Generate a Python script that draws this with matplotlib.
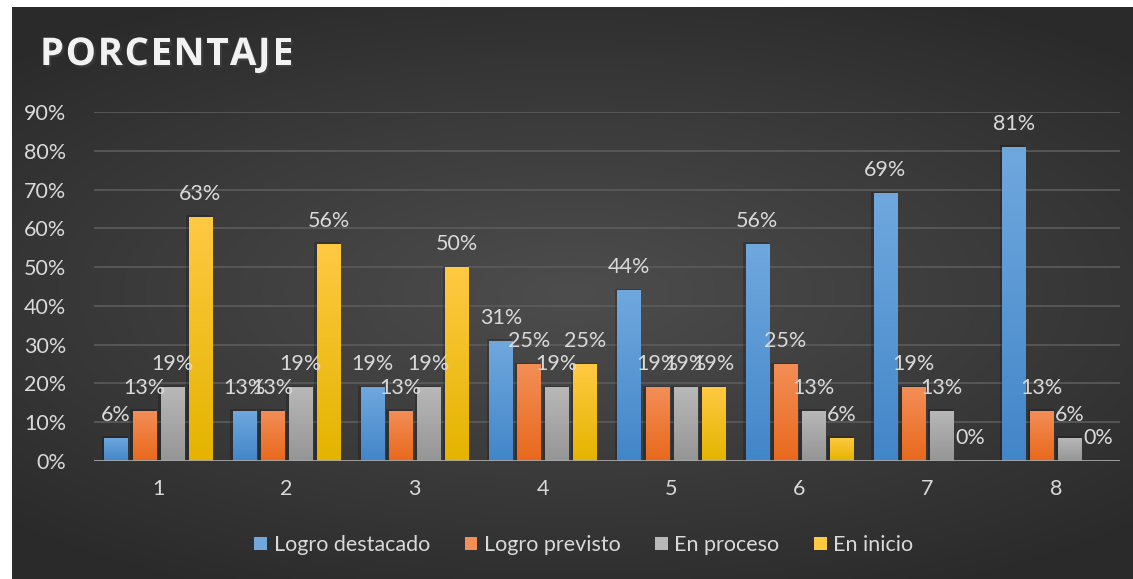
import numpy as np
import matplotlib
matplotlib.use("Agg")
import matplotlib.pyplot as plt
import matplotlib.patheffects as pe
from matplotlib.colors import LinearSegmentedColormap
from matplotlib.patches import Patch, Rectangle

plt.rcParams['font.family'] = ['Lato', 'DejaVu Sans']

categories = ['1', '2', '3', '4', '5', '6', '7', '8']
series_names = ['Logro destacado', 'Logro previsto', 'En proceso', 'En inicio']
logro_destacado = [6, 13, 19, 31, 44, 56, 69, 81]
logro_previsto = [13, 13, 13, 25, 19, 25, 19, 13]
en_proceso = [19, 19, 19, 19, 19, 13, 13, 6]
en_inicio = [63, 56, 50, 25, 19, 6, 0, 0]
yticks = [0, 10, 20, 30, 40, 50, 60, 70, 80, 90]
title = 'PORCENTAJE'

series = [logro_destacado, logro_previsto, en_proceso, en_inicio]
# (top colour, bottom colour) per series
grads = [('#70a8de', '#4286c9'),
         ('#f38e57', '#e8691c'),
         ('#b8b8b8', '#959595'),
         ('#ffc942', '#e4b400')]
txt = '#d9d9d9'
fs = 15.5

W, H = 1133, 579
fig = plt.figure(figsize=(W / 100, H / 100), dpi=100)
fig.patch.set_facecolor('white')

# dark radial background panel
bg = fig.add_axes([12 / W, 0, 1 - 12 / W, 1 - 7 / H])
yy, xx = np.mgrid[-1:1:300j, -1:1:600j]
r = np.sqrt((xx * 0.9) ** 2 + (yy * 1.1) ** 2)
bgcmap = LinearSegmentedColormap.from_list('bg', ['#4d4d4d', '#3c3c3c', '#2a2a2a'])
bg.imshow(r, cmap=bgcmap, aspect='auto', vmin=0, vmax=1.3, extent=(0, 1, 0, 1))
bg.set_axis_off()

ax = fig.add_axes([94 / W, 1 - 461 / H, (1120 - 94) / W, (461 - 112) / H])
ax.set_facecolor('none')
ax.set_xlim(-0.5, len(categories) - 0.5)
ax.set_ylim(0, 90)

for y in yticks[1:]:
    ax.axhline(y, color='#5c5c5c', lw=1.2, zorder=1)
ax.axhline(0, color='#a6a6a6', lw=2.0, zorder=6)

slot = 0.219
bw = 0.18
x = np.arange(len(categories))
for k, vals in enumerate(series):
    cmap = LinearSegmentedColormap.from_list('g%d' % k, [grads[k][1], grads[k][0]])
    for i, v in enumerate(vals):
        xc = x[i] + (k - 1.5) * slot
        if v > 0:
            sh = Rectangle((xc - bw / 2 - 0.02, 0), bw + 0.02, v + 0.4,
                           facecolor='black', alpha=0.2, lw=0, zorder=2)
            ax.add_patch(sh)
            bar = ax.bar(xc, v, width=bw, color=grads[k][1], lw=0, zorder=3)[0]
            grad = np.linspace(0, 1, 100).reshape(-1, 1)
            im = ax.imshow(grad, cmap=cmap, origin='lower', aspect='auto',
                           extent=(xc - bw / 2, xc + bw / 2, 0, v), zorder=4)
            im.set_clip_path(bar)
        ax.annotate('%d%%' % v, (xc, v), xytext=(0, 13), textcoords='offset pixels',
                    ha='center', va='bottom', color=txt, fontsize=fs, zorder=7)

ax.set_xlim(-0.5, len(categories) - 0.5)
ax.set_ylim(0, 90)
ax.set_xticks(x)
ax.set_xticklabels(categories)
ax.set_yticks(yticks)
ax.set_yticklabels(['%d%%' % t for t in yticks])
ax.tick_params(axis='both', length=0, colors=txt, labelsize=fs)
ax.tick_params(axis='x', pad=13)
ax.tick_params(axis='y', pad=20)
for s in ax.spines.values():
    s.set_visible(False)

# title with letter spacing, one character at a time
renderer = fig.canvas.get_renderer()
tx = 40
for ch in title:
    t = fig.text(tx / W, 1 - 55 / H, ch, color='#f2f2f2', fontsize=27.5,
                 fontweight='bold', va='center', ha='left', family=['Open Sans', 'DejaVu Sans'],
                 path_effects=[pe.withSimplePatchShadow(offset=(1.5, -1.5), alpha=0.5)])
    tx += t.get_window_extent(renderer).width + 1.6

handles = [Patch(facecolor=grads[k][0], edgecolor='none') for k in range(4)]
leg = fig.legend(handles, series_names, loc='center', bbox_to_anchor=(584 / W, 1 - 545 / H),
                 ncol=4, frameon=False, fontsize=fs, handlelength=0.6, handleheight=0.6,
                 handletextpad=0.3, columnspacing=1.6)
for t in leg.get_texts():
    t.set_color(txt)

fig.savefig('out.png', dpi=100, facecolor=fig.get_facecolor())
